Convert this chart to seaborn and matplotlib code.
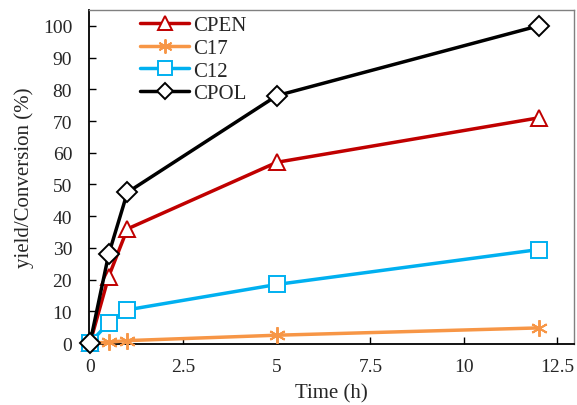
import pandas as pd
import matplotlib.pyplot as plt
import seaborn as sns

time_h = [0, 0.5, 1, 5, 12]
cpen = [0, 21, 36, 57, 71]
c17 = [0, 0.3, 0.8, 2.5, 4.8]
c12 = [0, 6.5, 10.5, 18.5, 29.5]
cpol = [0, 28, 47.5, 78, 100]

series_names = ["CPEN", "C17", "C12", "CPOL"]
colors = {"CPEN": "#C00000", "C17": "#F79646", "C12": "#00B0F0", "CPOL": "#000000"}
markers = {"CPEN": "^", "C17": (6, 2, 0), "C12": "s", "CPOL": "D"}

rows = []
for name, vals in zip(series_names, [cpen, c17, c12, cpol]):
    for t, v in zip(time_h, vals):
        rows.append({"Time": t, "value": v, "series": name})
df = pd.DataFrame(rows)

sns.set_style("ticks")
plt.rcParams['font.family'] = ['Liberation Serif', 'DejaVu Serif']

fig, ax = plt.subplots(figsize=(5.77, 4.06), dpi=100)
fig.subplots_adjust(left=0.154, right=0.995, top=0.973, bottom=0.15)

for name in series_names:
    d = df[df["series"] == name]
    mfc = colors[name] if name == "C17" else "white"
    ms = {"CPEN": 12, "C17": 12, "C12": 12, "CPOL": 10}[name]
    sns.lineplot(data=d, x="Time", y="value", ax=ax, color=colors[name],
                 linewidth=2.5, marker=markers[name], markersize=ms, markerfacecolor=mfc,
                 markeredgecolor=colors[name], markeredgewidth=1.4, label=name,
                 clip_on=False, zorder=3)

ax.set_xlim(0 - 0.03, 12.95)
ax.set_ylim(0 - 0.3, 105)
ax.set_xticks([0, 2.5, 5, 7.5, 10, 12.5])
ax.set_xticklabels(["0", "2.5", "5", "7.5", "10", "12.5"])
ax.set_yticks(range(0, 101, 10))
ax.tick_params(direction="in", labelsize=14, length=5, width=1, color="black")
ax.tick_params(axis="y", pad=12)
ax.tick_params(axis="x", pad=10)
ax.set_xlabel("Time (h)", fontsize=15, labelpad=6)
ax.set_ylabel("yield/Conversion (%)", fontsize=15, labelpad=6)

for s in ["left", "bottom"]:
    ax.spines[s].set_color("black")
    ax.spines[s].set_linewidth(1.3)
for s in ["top", "right"]:
    ax.spines[s].set_visible(True)
    ax.spines[s].set_color("#808080")
    ax.spines[s].set_linewidth(1)

ax.legend(loc="upper left", bbox_to_anchor=(0.08, 1.02), frameon=False,
          fontsize=15, handlelength=2.35, labelspacing=0.15, borderaxespad=0.2,
          handletextpad=0.2, markerscale=0.85)

fig.savefig("out.png", dpi=100)
